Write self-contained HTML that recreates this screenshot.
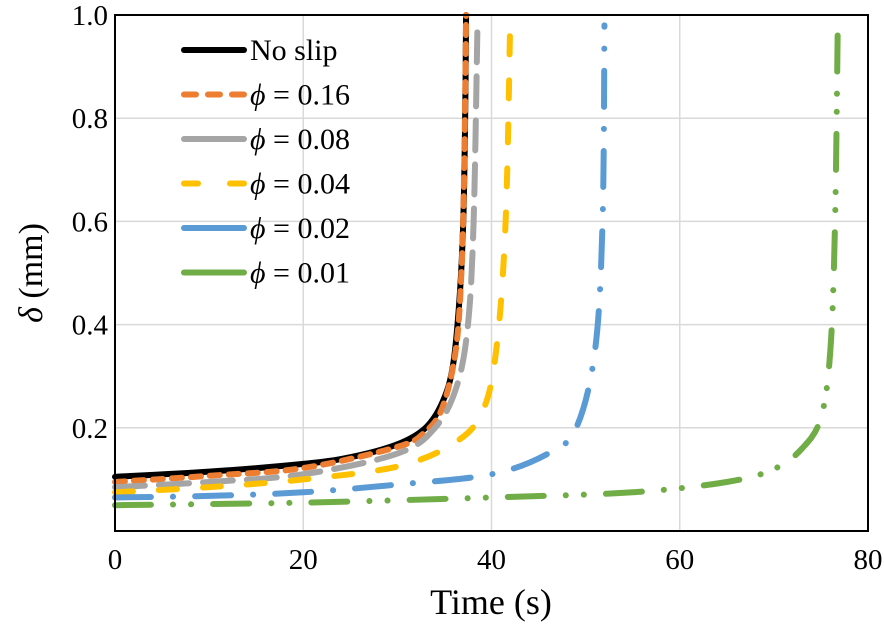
<!DOCTYPE html>
<html><head><meta charset="utf-8"><style>
body{margin:0;background:#fff}
svg text{font-family:"Liberation Serif","DejaVu Serif","Times New Roman",serif;fill:#000}
</style></head><body>
<svg id="chart" width="884" height="629" font-family="Liberation Serif, DejaVu Serif, serif">
<g id="grid"></g>
<g id="series"></g>
<rect x="115" y="15" width="753" height="516" fill="none" stroke="#000" stroke-width="2"/>
<g id="ticks"></g>
<text x="491" y="614" font-size="36" text-anchor="middle">Time (s)</text>
<text transform="translate(42,273) rotate(-90)" font-size="34" text-anchor="middle"><tspan font-style="italic">δ</tspan> (mm)</text>
<g id="legend"></g>
</svg>
<script>
const xTicks=[0,20,40,60,80];
const yTicks=[0.2,0.4,0.6,0.8,1.0];
const names=["No slip","ϕ = 0.16","ϕ = 0.08","ϕ = 0.04","ϕ = 0.02","ϕ = 0.01"];
const tNoSlip=[0,10,20,25,30,33,34.8,35.9,36.6,37,37.2,37.3];
const dNoSlip=[0.105,0.115,0.13,0.143,0.168,0.2,0.25,0.32,0.45,0.6,0.8,1.0];
const t016=[0,10,20,30,33,34.8,36.2,36.8,37.1,37.3];
const d016=[0.095,0.107,0.122,0.163,0.193,0.24,0.35,0.5,0.7,1.0];
const t008=[0,10,20,30,34,36.3,37.5,38.1,38.5];
const d008=[0.085,0.095,0.11,0.15,0.2,0.28,0.4,0.6,0.97];
const t004=[0,10,20,30,36,39,40.5,41.5,42];
const d004=[0.075,0.085,0.1,0.125,0.17,0.23,0.35,0.6,1.0];
const t002=[0,10,20,30,40,46,49,51,51.8,52];
const d002=[0.065,0.068,0.075,0.09,0.11,0.15,0.2,0.35,0.6,0.98];
const t001=[0,20,40,55,65,70,73,75,76,76.5,76.8];
const d001=[0.05,0.055,0.065,0.075,0.095,0.12,0.16,0.22,0.35,0.6,1.0];
const X=v=>115+v*753/80, Y=v=>531-v*516;
const NS="http://www.w3.org/2000/svg";
function mk(tag,attrs,parent){const e=document.createElementNS(NS,tag);for(const k in attrs)e.setAttribute(k,attrs[k]);parent.appendChild(e);return e;}
const grid=document.getElementById('grid'),ticks=document.getElementById('ticks');
xTicks.forEach(v=>{
 if(v>0&&v<80){const l=mk('line',{x1:X(v),x2:X(v),y1:15,y2:531,stroke:'#d9d9d9','stroke-width':1.5},grid);
 
 }
 const t=mk('text',{x:X(v),y:569,'font-size':29,'text-anchor':'middle'},ticks);t.textContent=v;
 
 
});
yTicks.forEach(v=>{
 if(v<1){const l=mk('line',{x1:115,x2:868,y1:Y(v),y2:Y(v),stroke:'#d9d9d9','stroke-width':1.5},grid);
 
 }
 const t=mk('text',{x:108,y:Y(v)+10,'font-size':29,'text-anchor':'end'},ticks);t.textContent=v.toFixed(1);
 
 
});
const styles=[
 {c:'#000',w:6,d:'none'},
 {c:'#ed7d31',w:6,d:'10 9'},
 {c:'#a5a5a5',w:6,d:'30 14'},
 {c:'#ffc000',w:6,d:'18 26'},
 {c:'#5b9bd5',w:6,d:'36 22 0.1 22'},
 {c:'#70ad47',w:6,d:'36 22 0.1 18 0.1 22'}];
const ts=[tNoSlip,t016,t008,t004,t002,t001], ds=[dNoSlip,d016,d008,d004,d002,d001];
const sg=document.getElementById('series'), lg=document.getElementById('legend');
function smooth(tt,dd){
 const p=tt.map((t,i)=>[X(t),Y(dd[i])]);let s='M'+p[0].join(',');
 for(let i=0;i<p.length-1;i++){const p0=p[i-1]||p[i],p1=p[i],p2=p[i+1],p3=p[i+2]||p2;
  const c1=[p1[0]+(p2[0]-p0[0])/6,p1[1]+(p2[1]-p0[1])/6],c2=[p2[0]-(p3[0]-p1[0])/6,p2[1]-(p3[1]-p1[1])/6];
  s+=`C${c1.join(',')} ${c2.join(',')} ${p2.join(',')}`;}
 return s;}
for(let i=0;i<6;i++){const s=styles[i];
 const p=mk('path',{d:smooth(ts[i],ds[i]),fill:'none',stroke:s.c,'stroke-width':s.w,'stroke-dasharray':s.d,'stroke-linecap':'round'},sg);
 
 }
const legDash=['none','12 12','60 1','14 32','none','none'];
names.forEach((n,i)=>{const s=styles[i],y=50+i*44.5;
 const g=mk('g',{},lg);
 
 
 mk('line',{x1:184,x2:244,y1:y,y2:y,stroke:s.c,'stroke-width':6,'stroke-linecap':'round','stroke-dasharray':legDash[i]},g);
 const t=mk('text',{x:250,y:y+10,'font-size':30},g);
 if(i==0)t.textContent=n;else{const a=mk('tspan',{'font-style':'italic'},t);a.textContent='ϕ';const b=mk('tspan',{},t);b.textContent=' = '+n.split('= ')[1];}
});
</script>
</body></html>
